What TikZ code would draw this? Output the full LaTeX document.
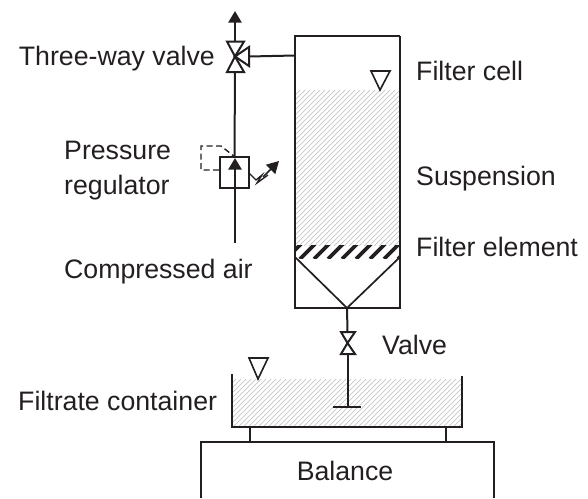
\documentclass[tikz,border=0pt]{standalone}
\usepackage{fontspec}
\setmainfont{Liberation Sans}
\usetikzlibrary{arrows.meta}
\definecolor{ink}{HTML}{231F20}
\definecolor{hatchc}{HTML}{C6C6C6}
\tikzset{
  x=1pt,y=-1pt,
  wall/.style={draw=ink,line width=2pt,line join=miter},
  thin wall/.style={draw=ink,line width=1.7pt},
  valve/.style={draw=ink,line width=2pt,fill=white,line join=miter},
  lbl/.style={font=\fontsize{26.7}{30}\selectfont,text=ink,inner sep=0pt},
  tip/.style={-{Triangle[length=11.5pt,width=13pt]}},
}
\begin{document}
\begin{tikzpicture}
\useasboundingbox (0,0) rectangle (588,498);
% hatch
\begin{scope}
\clip (296,90) rectangle (400,245);
\foreach \i in {0,...,70}{\draw[hatchc,line width=.7pt] (290+\i*5,250) -- +(170,-170);}
\foreach \i in {1,...,40}{\draw[hatchc,line width=.7pt] (290-\i*5,250) -- +(170,-170);}
\end{scope}
\begin{scope}
\clip (233,379) rectangle (462,427);
\foreach \i in {0,...,60}{\draw[hatchc,line width=.7pt] (180+\i*5,430) -- +(60,-60);}
\end{scope}
\begin{scope}
\clip (296,245) rectangle (400,258);
\foreach \i in {0,...,9}{\draw[ink,line width=3.6pt] (286+\i*14,259) -- +(15,-15);}
\end{scope}
% cell
\coordinate (c1) at (295,36);
\coordinate (c2) at (400,36);
\draw[wall] (c2) -- (c1) -- (295,308) -- (400,308) -- (c2);
\coordinate (apex) at (347,308);
\draw[thin wall] (295,257) -- (apex) -- (400,257);
% three-way valve
\coordinate (tv) at (235,56.5);
\coordinate (tvtop) at (235,41);
\coordinate (tvbot) at (235,72);
\coordinate (tvside) at (249,56.5);
\coordinate (airtop) at (235,11);
\draw[wall,tip] (tvtop) -- (airtop);
\draw[valve] (tv) -- (227,41.5) -- (244,41.5) -- cycle;
\draw[valve] (tv) -- (227,72) -- (244,72) -- cycle;
\draw[valve] (tv) -- (249,47) -- (249,66) -- cycle;
\draw[wall] (tvside) -- (295,55.5);
% regulator
\node[draw=ink,line width=2pt,minimum width=29pt,minimum height=31pt,inner sep=0pt] (reg) at (234.5,172.5) {};
\coordinate (airin) at (235,243);
\draw[wall] (tvbot) -- (reg.north);
\draw[draw=ink,line width=2.2pt,tip] (airin) -- (235,158);
\draw[draw=ink,line width=1.4pt,dash pattern=on 6pt off 3.5pt] (reg.west |- 0,170) -- (201,170) -- (201,146) -- (221,146) -- (235,157);
\coordinate (sp) at (249,173);
\draw[draw=ink,line width=1.3pt] (sp) -- (256,180) -- (262,175) -- (257,183) -- (268,175);
\draw[draw=ink,line width=1.6pt,-{Triangle[length=12pt,width=13pt]}] (263,177) -- (279,161);
% level marks
\draw[draw=ink,line width=1.6pt,line join=miter] (371,71) -- (390,71) -- (380,90) -- cycle;
\draw[draw=ink,line width=1.6pt,line join=miter] (249,358) -- (268,358) -- (258,379) -- cycle;
% lower valve
\coordinate (vc) at (347.5,343);
\draw[wall] (apex) -- (347.5,332);
\draw[valve] (vc) -- (341,332) -- (355,332) -- cycle;
\draw[valve] (vc) -- (341,354) -- (355,354) -- cycle;
\coordinate (stemend) at (347.5,407);
\draw[wall] (347.5,354) -- (stemend);
\draw[wall] (333,407) -- (361,407);
% container
\draw[wall] (232,374) -- (232,427) -- (462,427) -- (462,376);
\draw[wall] (250,427) -- (250,442);
\draw[wall] (446,427) -- (446,442);
% balance
\draw[wall] (201,498) -- (201,442) -- (494,442) -- (494,498);
% labels
\node[lbl,anchor=base east] (t1) at (215,65) {Three-way valve};
\node[lbl,anchor=base west] (t2) at (416,80) {Filter cell};
\node[lbl,anchor=base west] (t3) at (64,159) {Pressure};
\node[lbl,anchor=base west] (t4) at (64,194) {regulator};
\node[lbl,anchor=base west] (t5) at (416,185) {Suspension};
\node[lbl,anchor=base west] (t6) at (416,256) {Filter element};
\node[lbl,anchor=base west] (t7) at (64,278) {Compressed air};
\node[lbl,anchor=base west] (t8) at (382,354) {Valve};
\node[lbl,anchor=base west] (t9) at (18,410) {Filtrate container};
\node[lbl,anchor=base] (t10) at (345,480) {Balance};
\end{tikzpicture}
\end{document}
